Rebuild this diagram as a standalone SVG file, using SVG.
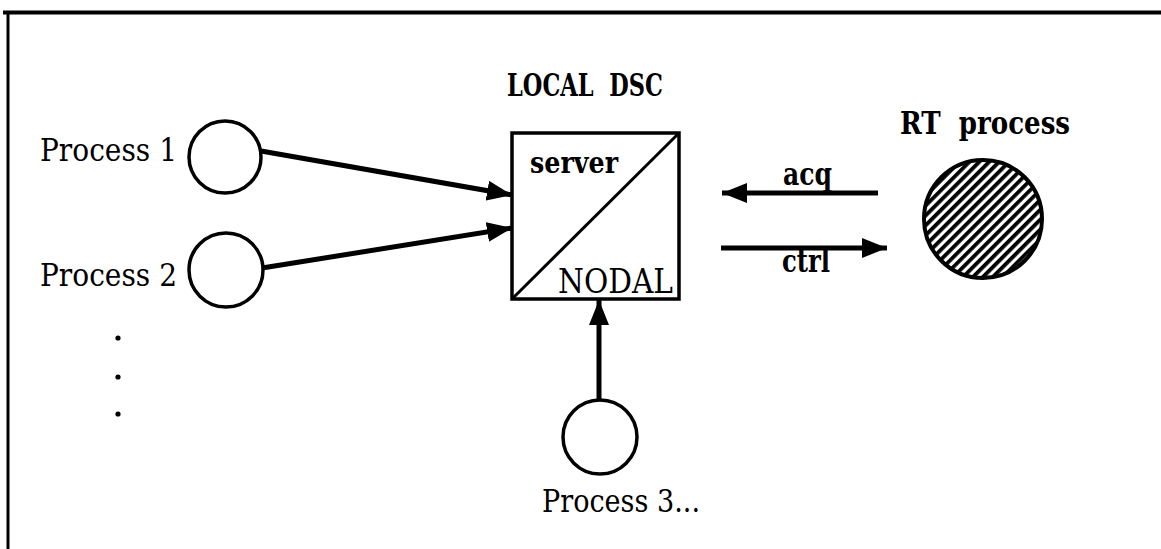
<svg xmlns="http://www.w3.org/2000/svg" width="1161" height="549" viewBox="0 0 1161 549">
  <style>
    .lbl { font-family: "DejaVu Serif", "Liberation Serif", serif; fill: #000; }
    .b { font-weight: bold; }
    .node { fill: #fff; stroke: #000; stroke-width: 3.5; }
    .edge { stroke: #000; stroke-width: 5; fill: none; }
  </style>
  <defs>
    <marker id="head" viewBox="0 0 25 20" refX="25" refY="10" markerWidth="25" markerHeight="20" markerUnits="userSpaceOnUse" orient="auto">
      <path d="M0,0 L25,10 L0,20 Z" fill="#000"/>
    </marker>
    <pattern id="hatch" width="7" height="7" patternUnits="userSpaceOnUse" patternTransform="rotate(-45)">
      <rect width="7" height="7" fill="#fff"/>
      <rect width="7" height="3.8" fill="#000"/>
    </pattern>
  </defs>
  <rect width="1161" height="549" fill="#fff"/>

  <!-- frame -->
  <g id="frame">
    <line x1="3" y1="12.5" x2="1161" y2="12.5" stroke="#000" stroke-width="4"/>
    <line x1="8" y1="11" x2="8" y2="549" stroke="#000" stroke-width="3"/>
  </g>

  <!-- connectors -->
  <g id="connectors">
    <line class="edge" x1="261" y1="151" x2="512" y2="195" marker-end="url(#head)"/>
    <line class="edge" x1="262" y1="268" x2="512" y2="228" marker-end="url(#head)"/>
    <line class="edge" x1="599" y1="401" x2="599" y2="300" marker-end="url(#head)"/>
    <line class="edge" x1="878" y1="193" x2="722" y2="193" marker-end="url(#head)"/>
    <line class="edge" x1="721" y1="248" x2="887" y2="248" marker-end="url(#head)"/>
  </g>

  <g id="local-dsc">
    <text class="lbl b" x="507" y="96" font-size="31" textLength="156" lengthAdjust="spacingAndGlyphs" xml:space="preserve">LOCAL  DSC</text>
    <rect x="512" y="133" width="167" height="166" fill="#fff" stroke="#000" stroke-width="3.5"/>
    <line x1="512" y1="299" x2="679" y2="133" stroke="#000" stroke-width="3"/>
    <text class="lbl b" x="530" y="173" font-size="30" textLength="88" lengthAdjust="spacingAndGlyphs">server</text>
    <text class="lbl" x="558" y="293" font-size="34" textLength="115" lengthAdjust="spacingAndGlyphs">NODAL</text>
  </g>

  <g id="process-1">
    <circle class="node" cx="225" cy="157" r="36"/>
    <text class="lbl" x="40" y="161" font-size="31" textLength="137" lengthAdjust="spacingAndGlyphs">Process 1</text>
  </g>

  <g id="process-2">
    <circle class="node" cx="226" cy="270" r="37"/>
    <text class="lbl" x="40" y="286" font-size="31" textLength="137" lengthAdjust="spacingAndGlyphs">Process 2</text>
  </g>

  <g id="more-processes">
    <circle cx="118" cy="338" r="2.6" fill="#000"/>
    <circle cx="118" cy="377" r="2.6" fill="#000"/>
    <circle cx="118" cy="414" r="2.6" fill="#000"/>
  </g>

  <g id="process-3">
    <circle class="node" cx="600" cy="437" r="37"/>
    <text class="lbl" x="542" y="512" font-size="31" textLength="158" lengthAdjust="spacingAndGlyphs">Process 3...</text>
  </g>

  <g id="rt-process">
    <text class="lbl b" x="900" y="134" font-size="31" textLength="170" lengthAdjust="spacingAndGlyphs" xml:space="preserve">RT  process</text>
    <circle cx="983" cy="219" r="59" fill="url(#hatch)" stroke="#000" stroke-width="4"/>
  </g>

  <g id="labels">
    <text class="lbl b" x="783" y="185" font-size="31" textLength="49" lengthAdjust="spacingAndGlyphs">acq</text>
    <text class="lbl b" x="782" y="272" font-size="31" textLength="48" lengthAdjust="spacingAndGlyphs">ctrl</text>
  </g>
</svg>
